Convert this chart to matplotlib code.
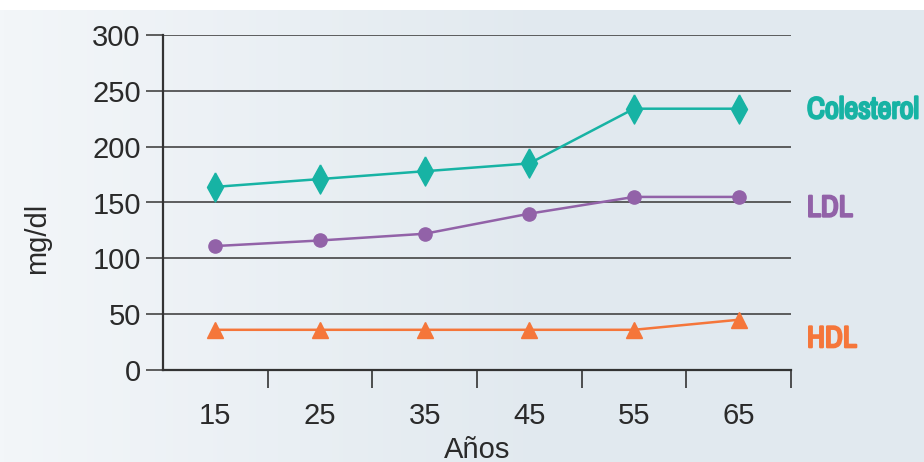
import matplotlib
matplotlib.use("Agg")
import matplotlib.pyplot as plt
import matplotlib.patheffects as pe
import numpy as np
from matplotlib import font_manager as fm

ages = ["15", "25", "35", "45", "55", "65"]
colesterol = [164, 171, 178, 185, 234, 234]
ldl = [111, 116, 122, 140, 155, 155]
hdl = [36, 36, 36, 36, 36, 45]
series_names = ["Colesterol", "LDL", "HDL"]
label_y = [233, 145, 28]
yticks = [0, 50, 100, 150, 200, 250, 300]

c_teal = "#17b3a4"
c_purple = "#9262a8"
c_orange = "#f5763a"
c_dark = "#333333"
c_text = "#2a2a2a"

names = sorted({f.name for f in fm.fontManager.ttflist})
cands = [n for n in names if ("Condensed" in n or "Narrow" in n) and "Mono" not in n and "Serif" not in n]
narrow = cands[0] if cands else "DejaVu Sans"

fig = plt.figure(figsize=(9.24, 4.62), dpi=100)
fig.patch.set_facecolor("white")

# gradient background
bg = fig.add_axes([0, 0, 1, 452 / 462], zorder=-10)
grad = np.linspace(0, 1, 256)
c0 = np.array([0xf3, 0xf6, 0xf9]) / 255
c1 = np.array([0xe1, 0xe9, 0xef]) / 255
t = np.clip(grad / 0.6, 0, 1)[:, None]
img = (c0 * (1 - t) + c1 * t)[None, :, :]
bg.imshow(img, aspect="auto", extent=[0, 1, 0, 1])
bg.axis("off")

ax = fig.add_axes([163 / 924, (462 - 370) / 462, (791 - 163) / 924, (370 - 35) / 462])
ax.set_facecolor("none")
x = np.arange(len(ages))

diamond = [(0, 1), (0.55, 0), (0, -1), (-0.55, 0), (0, 1)]
ax.plot(x, colesterol, color=c_teal, lw=1.8, marker=diamond, ms=21, zorder=3)
ax.plot(x, ldl, color=c_purple, lw=1.8, marker="o", ms=9.5, zorder=3)
ax.plot(x, hdl, color=c_orange, lw=1.8, marker="^", ms=12, zorder=3)

ax.set_xlim(-0.5, len(ages) - 0.5)
ax.set_ylim(0, 300)
ax.set_yticks(yticks)
ax.set_yticklabels([str(v) for v in yticks])
ax.yaxis.grid(True, color="#444444", lw=1.2)
ax.set_axisbelow(True)

ax.set_xticks(x)
ax.set_xticklabels(ages)
ax.set_xticks(np.arange(0.5, len(ages), 1.0), minor=True)
ax.tick_params(axis="x", which="major", length=0, pad=23, labelsize=21, labelcolor=c_text)
ax.tick_params(axis="x", which="minor", length=13, width=1.2, color=c_dark, direction="out")
ax.tick_params(axis="y", which="major", length=12, width=1.2, color="#444444", pad=4,
               labelsize=21, labelcolor=c_text)

for s in ["top", "right"]:
    ax.spines[s].set_visible(False)
for s in ["left", "bottom"]:
    ax.spines[s].set_color(c_dark)
    ax.spines[s].set_linewidth(1.6)

for lab in ax.get_xticklabels() + ax.get_yticklabels():
    lab.set_fontfamily("Liberation Sans")

ax.set_xlabel("Años", fontsize=21, family="Liberation Sans", color=c_text, labelpad=4)
fig.text(37 / 924, 1 - 238 / 462, "mg/dl", rotation=90, ha="center", va="center",
         fontsize=21, family="Liberation Sans", color=c_text)

label_x = 807 / 924
max_w = 112
renderer = fig.canvas.get_renderer()
texts = []
for name, yv, col in zip(series_names, label_y, [c_teal, c_purple, c_orange]):
    _, yd = ax.transData.transform((0, yv))
    tx = fig.text(label_x, yd / fig.bbox.height, name, color=col, fontsize=22,
                  fontweight="bold", family=narrow, ha="left", va="center")
    tx.set_path_effects([pe.withStroke(linewidth=1.6, foreground=col)])
    texts.append(tx)
# shrink labels so "Colesterol" fits the right margin, like the reference
w = texts[0].get_window_extent(renderer).width
if w > max_w:
    fs = 22 * max_w / w
    for tx in texts:
        tx.set_fontsize(fs)

fig.savefig("out.png", dpi=100)
